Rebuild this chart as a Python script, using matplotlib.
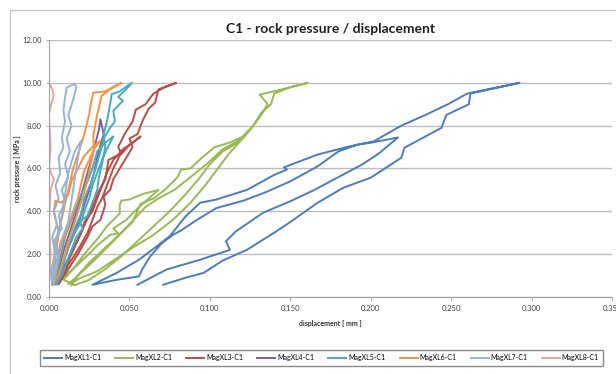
import matplotlib
matplotlib.use('Agg')
import matplotlib.pyplot as plt
from matplotlib.patches import Rectangle
from matplotlib.ticker import FormatStrFormatter, MultipleLocator

plt.rcParams['font.family'] = ['Lato', 'DejaVu Sans']

# displacement [mm] / rock pressure [MPa] (load/unload cycles)
xl1_x = [0.055, 0.073, 0.094, 0.1125, 0.110, 0.116, 0.133, 0.150, 0.165, 0.180, 0.195, 0.205, 0.217,
         0.200, 0.192, 0.180, 0.167, 0.150, 0.135, 0.121, 0.104, 0.092, 0.082, 0.077, 0.070, 0.063, 0.058, 0.056, 0.042, 0.027,
         0.042, 0.056, 0.067, 0.075, 0.085, 0.094, 0.104, 0.123, 0.140, 0.148, 0.146, 0.167, 0.185, 0.202, 0.219, 0.234, 0.248, 0.260, 0.2925,
         0.262, 0.261, 0.247, 0.244, 0.221, 0.219, 0.200, 0.183, 0.167, 0.150, 0.140, 0.123, 0.108, 0.096, 0.085, 0.071]
xl1_y = [0.57, 1.28, 1.74, 2.20, 2.60, 3.05, 3.93, 4.47, 5.00, 5.60, 6.20, 6.70, 7.45,
         7.20, 7.12, 6.80, 6.10, 5.40, 4.90, 4.50, 4.15, 3.60, 3.10, 2.90, 2.50, 1.90, 1.30, 0.96, 0.80, 0.57,
         1.12, 1.74, 2.37, 2.83, 3.77, 4.40, 4.55, 5.00, 5.70, 5.95, 6.05, 6.65, 7.00, 7.27, 8.00, 8.50, 9.00, 9.50, 10.00,
         9.50, 9.00, 8.50, 7.90, 6.97, 6.50, 5.57, 5.10, 4.40, 3.50, 3.00, 2.20, 1.70, 1.12, 0.90, 0.57]

xl2_x = [0.003, 0.008, 0.015, 0.022, 0.030, 0.038, 0.043, 0.040, 0.048, 0.056, 0.068,
         0.058, 0.050, 0.045, 0.044, 0.044, 0.036, 0.030, 0.022, 0.015, 0.009, 0.016,
         0.025, 0.035, 0.045, 0.055, 0.065, 0.075, 0.085, 0.093, 0.100, 0.108, 0.115, 0.121,
         0.112, 0.103, 0.095, 0.088, 0.082, 0.080, 0.072, 0.065, 0.057, 0.052, 0.045, 0.035, 0.025, 0.018, 0.012,
         0.020, 0.030, 0.040, 0.052, 0.065, 0.077, 0.088, 0.097, 0.105, 0.112, 0.118, 0.125, 0.131, 0.136, 0.131, 0.145, 0.161,
         0.150, 0.140, 0.138, 0.132, 0.127, 0.118, 0.108, 0.098, 0.088, 0.078, 0.068, 0.060, 0.050, 0.040, 0.028, 0.018, 0.014]
xl2_y = [0.57, 0.90, 1.30, 1.80, 2.40, 2.90, 2.97, 3.20, 3.60, 4.20, 5.00,
         4.80, 4.55, 4.50, 4.30, 3.90, 3.30, 2.70, 2.00, 1.30, 0.80, 0.55,
         0.80, 1.30, 1.90, 2.60, 3.30, 4.00, 4.80, 5.50, 6.20, 6.80, 7.10, 7.50,
         7.20, 7.00, 6.50, 6.00, 5.95, 5.60, 5.00, 4.60, 4.35, 3.50, 3.00, 2.30, 1.60, 1.00, 0.60,
         0.90, 1.20, 1.70, 2.30, 2.90, 3.60, 4.40, 5.20, 6.00, 6.70, 7.20, 7.80, 8.40, 9.00, 9.45, 9.70, 10.00,
         9.80, 9.50, 9.00, 8.60, 8.00, 7.30, 6.90, 6.20, 5.60, 5.00, 4.60, 4.20, 3.40, 2.60, 1.70, 1.00, 0.55]

xl3_x = [0.005, 0.008, 0.012, 0.016, 0.020, 0.022, 0.027, 0.030, 0.033, 0.036, 0.040, 0.046, 0.052, 0.057,
         0.050, 0.044, 0.040, 0.037, 0.033, 0.030, 0.027, 0.024, 0.018, 0.012, 0.008, 0.006,
         0.012, 0.018, 0.024, 0.027, 0.032, 0.035, 0.034, 0.038, 0.040, 0.044, 0.048, 0.052, 0.050, 0.055, 0.058, 0.062, 0.066, 0.068, 0.079,
         0.072, 0.065, 0.060, 0.054, 0.052, 0.047, 0.043, 0.045, 0.037, 0.035, 0.030, 0.026, 0.020, 0.014, 0.008, 0.005]
xl3_y = [0.60, 1.20, 1.80, 2.40, 3.00, 3.50, 4.00, 4.60, 5.20, 5.80, 6.40, 6.90, 7.20, 7.50,
         7.10, 6.60, 6.00, 5.40, 4.60, 4.20, 3.60, 3.00, 2.20, 1.50, 0.90, 0.60,
         1.30, 2.00, 2.80, 3.30, 3.60, 4.30, 4.70, 5.00, 5.50, 6.00, 6.50, 7.00, 7.40, 7.60, 8.20, 8.80, 9.07, 9.69, 10.00,
         9.80, 9.50, 9.00, 8.75, 8.20, 7.60, 7.00, 6.70, 6.40, 5.50, 4.80, 4.00, 3.00, 2.00, 1.00, 0.60]

xl4_x = [0.004, 0.008, 0.012, 0.016, 0.019, 0.022, 0.025, 0.028, 0.030, 0.032, 0.034, 0.032,
         0.031, 0.029, 0.027, 0.024, 0.021, 0.018, 0.015, 0.011, 0.007, 0.004]
xl4_y = [0.60, 1.50, 2.30, 3.00, 3.60, 4.30, 5.00, 5.80, 6.50, 7.10, 7.60, 8.30,
         7.80, 7.20, 6.60, 5.80, 5.00, 4.20, 3.50, 2.60, 1.60, 0.60]

xl5_x = [0.004, 0.008, 0.012, 0.016, 0.020, 0.022, 0.025, 0.027, 0.030, 0.033, 0.036, 0.040,
         0.035, 0.030, 0.027, 0.024, 0.020, 0.017, 0.014, 0.010, 0.007, 0.004,
         0.008, 0.013, 0.017, 0.021, 0.019, 0.024, 0.027, 0.030, 0.031, 0.033, 0.035, 0.034, 0.036, 0.038, 0.039, 0.044, 0.0515,
         0.047, 0.043, 0.046, 0.040, 0.041, 0.038, 0.034, 0.032, 0.029, 0.026, 0.022, 0.020, 0.016, 0.012, 0.008, 0.005]
xl5_y = [0.60, 1.50, 2.30, 3.00, 3.50, 4.00, 4.60, 5.20, 5.80, 6.40, 6.90, 7.50,
         7.20, 6.80, 6.00, 5.40, 4.80, 4.20, 3.60, 2.80, 1.80, 0.60,
         1.00, 2.00, 2.80, 3.20, 3.50, 3.80, 4.40, 5.00, 5.60, 6.20, 7.00, 7.60, 8.20, 9.00, 9.47, 9.60, 10.00,
         9.62, 9.35, 9.16, 8.70, 8.20, 7.90, 7.40, 6.80, 6.00, 5.30, 4.60, 3.90, 3.20, 2.30, 1.30, 0.60]

xl6_x = [0.003, 0.005, 0.008, 0.012, 0.015, 0.018, 0.020, 0.022, 0.025, 0.028, 0.032,
         0.027, 0.022, 0.018, 0.014, 0.012, 0.008, 0.004, 0.003, 0.006, 0.004, 0.002,
         0.006, 0.010, 0.013, 0.016, 0.019, 0.022, 0.024, 0.026, 0.028, 0.0275, 0.0296, 0.0327, 0.038, 0.045,
         0.035, 0.0275, 0.026, 0.025, 0.022, 0.018, 0.015, 0.012, 0.009, 0.006, 0.004, 0.003]
xl6_y = [0.60, 1.50, 2.50, 3.30, 4.00, 4.60, 5.30, 5.90, 6.40, 6.90, 7.30,
         7.00, 6.60, 6.00, 5.40, 4.80, 4.40, 4.50, 4.00, 3.00, 2.00, 0.60,
         1.00, 2.00, 2.80, 3.50, 4.20, 4.90, 5.50, 6.20, 6.90, 7.52, 8.38, 9.39, 9.70, 10.00,
         9.60, 9.54, 9.00, 8.53, 7.60, 6.66, 6.00, 5.00, 4.00, 3.00, 2.00, 0.80]

xl7_x = [0.002, 0.004, 0.006, 0.003, 0.008, 0.006, 0.010, 0.008, 0.012, 0.010, 0.013, 0.011, 0.014, 0.012, 0.015, 0.017, 0.016,
         0.011, 0.010, 0.009, 0.010, 0.008, 0.009, 0.006, 0.007, 0.004, 0.006, 0.003, 0.005, 0.002, 0.004, 0.001, 0.002,
         0.003, 0.007, 0.012, 0.014, 0.016, 0.018, 0.020, 0.016, 0.012, 0.010, 0.008, 0.004, 0.002]
xl7_y = [0.55, 1.20, 2.00, 2.60, 3.20, 3.80, 4.40, 5.00, 5.60, 6.20, 6.80, 7.40, 8.00, 8.50, 9.20, 9.80, 9.95,
         9.78, 9.30, 8.70, 8.20, 7.44, 7.00, 6.50, 5.80, 5.20, 4.60, 4.00, 3.40, 2.80, 2.00, 1.20, 0.55,
         1.00, 2.50, 3.50, 4.50, 5.50, 6.50, 7.30, 6.80, 5.80, 4.80, 3.80, 2.50, 1.00]

xl8_x = [0.000, 0.001, 0.000, 0.001, 0.003, 0.000, 0.001, 0.000, 0.001, 0.003, 0.002, 0.000]
xl8_y = [0.55, 2.00, 3.50, 5.00, 5.50, 6.00, 7.00, 8.50, 8.90, 9.40, 9.70, 10.00]

series_names = ['MagXL1-C1', 'MagXL2-C1', 'MagXL3-C1', 'MagXL4-C1',
                'MagXL5-C1', 'MagXL6-C1', 'MagXL7-C1', 'MagXL8-C1']
series_x = [xl1_x, xl2_x, xl3_x, xl4_x, xl5_x, xl6_x, xl7_x, xl8_x]
series_y = [xl1_y, xl2_y, xl3_y, xl4_y, xl5_y, xl6_y, xl7_y, xl8_y]
colors = ['#4A7EBB', '#98B954', '#BE4B48', '#7D60A0', '#46AAC5', '#F69240', '#95B3D7', '#E6A5A3']

fig = plt.figure(figsize=(6.16, 3.74), dpi=100)
ax = fig.add_axes([0.0795, 0.206, 0.914, 0.687])

# outer chart frame
fig.patches.append(Rectangle((0.016, -0.05), 1.1, 1.023, transform=fig.transFigure,
                             fill=False, edgecolor='#C8C8C8', linewidth=1.0))

for xs, ys, name, c in zip(series_x, series_y, series_names, colors):
    ax.plot(xs, ys, color=c, linewidth=1.4, label=name, solid_joinstyle='round')

ax.set_xlim(0, 0.35)
ax.set_ylim(0, 12)
ax.xaxis.set_major_locator(MultipleLocator(0.05))
ax.yaxis.set_major_locator(MultipleLocator(2))
ax.xaxis.set_major_formatter(FormatStrFormatter('%.3f'))
ax.yaxis.set_major_formatter(FormatStrFormatter('%.2f'))
ax.grid(axis='y', color='#BEBEBE', linewidth=1.0)
ax.set_axisbelow(True)
for s in ['top', 'right']:
    ax.spines[s].set_visible(False)
for s in ['left', 'bottom']:
    ax.spines[s].set_color('#A0A0A0')
ax.tick_params(labelsize=5.5, colors='#404040', length=2, width=0.6)
ax.tick_params(axis='both', color='#A0A0A0')

ax.set_title('C1 - rock pressure / displacement', fontsize=10, fontweight='bold', color='#202020', pad=5)
ax.set_xlabel('displacement [ mm ]', fontsize=5, fontweight='bold', color='#303030', labelpad=6)
ax.set_ylabel('rock pressure [ MPa ]', fontsize=5, fontweight='bold', color='#303030', labelpad=1)

leg = fig.legend(loc='center', bbox_to_anchor=(0.522, 0.043), ncol=8, fontsize=5,
                 frameon=True, fancybox=False, handlelength=2.6, columnspacing=2.0,
                 handletextpad=0.3, borderpad=0.6)
leg.get_frame().set_edgecolor('#6E6E6E')
leg.get_frame().set_linewidth(1.0)

fig.savefig('out.png', dpi=100)
